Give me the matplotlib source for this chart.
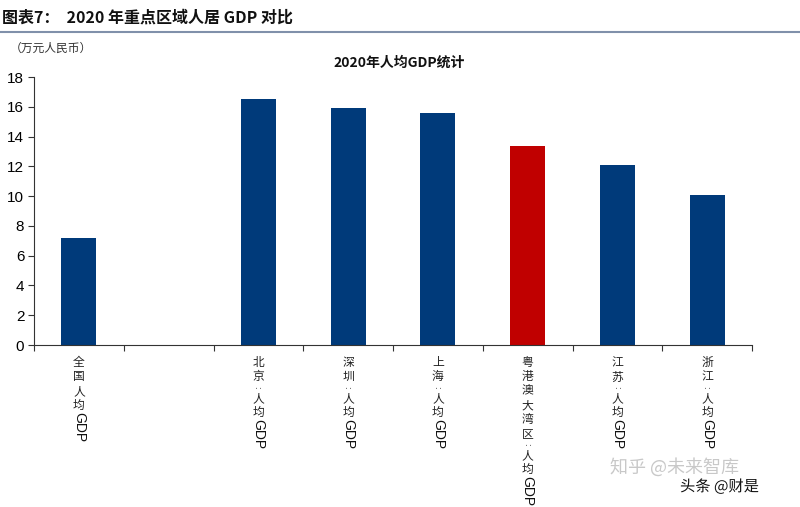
import matplotlib

matplotlib.use("Agg")

import matplotlib.pyplot as plt
import matplotlib.patheffects as pe

plt.rcParams["font.family"] = ["Noto Sans CJK SC", "DejaVu Sans"]

# data (万元人民币)
regions = ["全国", "", "北京", "深圳", "上海", "粤港澳大湾区", "江苏", "浙江"]
gdp_per_capita = [7.2, None, 16.5, 15.95, 15.6, 13.4, 12.1, 10.05]
highlight = "粤港澳大湾区"

_BLUE = "#003a7a"
_RED = "#c00000"

fig = plt.figure(figsize=(8.0, 5.07), dpi=100)
ax = fig.add_axes([0.0425, 0.3195, 0.8975, 0.5285])

for i, (name, value) in enumerate(zip(regions, gdp_per_capita)):
    if value is None:
        continue
    color = _RED if name == highlight else _BLUE
    ax.bar(i, value, width=0.39, color=color)

ax.set_xlim(-0.5, len(regions) - 0.5)
ax.set_ylim(0, 18)
ax.set_yticks(range(0, 19, 2))
ax.set_xticks([i + 0.5 for i in range(-1, len(regions))])
ax.set_xticklabels([])
ax.tick_params(axis="x", direction="out", length=4, width=0.8, color="#333333")
ax.tick_params(axis="y", direction="out", length=4, width=0.8, color="#333333", pad=3)
for lbl in ax.get_yticklabels():
    lbl.set_fontfamily("Liberation Sans")
    lbl.set_fontsize(11)
ax.spines["top"].set_visible(False)
ax.spines["right"].set_visible(False)
ax.spines["left"].set_color("#333333")
ax.spines["bottom"].set_color("#333333")

# vertical category labels: characters stacked, "GDP" turned sideways
step = 10.3
for i, name in enumerate(regions):
    if not name:
        continue
    chars = list(name) + [":", "人", "均"] if i > 0 else list(name) + ["人", "均"]
    off = 8.0
    for ch in chars:
        if ch == ":":
            ax.annotate(":", xy=(i, 0), xycoords=("data", "axes fraction"),
                        xytext=(0, -off - 1.0), textcoords="offset points",
                        ha="center", va="center", rotation=90, fontsize=7,
                        fontfamily="DejaVu Sans", color="#444444",
                        annotation_clip=False)
            off += step * 0.5
        else:
            ax.annotate(ch, xy=(i, 0), xycoords=("data", "axes fraction"),
                        xytext=(0, -off), textcoords="offset points",
                        ha="center", va="top", fontsize=8.5,
                        color="#222222", annotation_clip=False)
            off += step
    ax.annotate("GDP", xy=(i, 0), xycoords=("data", "axes fraction"),
                xytext=(0, -off + 1), textcoords="offset points",
                ha="center", va="top", rotation=-90, fontsize=10,
                fontfamily="Liberation Sans", color="#111111",
                annotation_clip=False)

fig.text(0.003, 0.9645, "图表7：  2020 年重点区域人居 GDP 对比",
         ha="left", va="center", fontsize=11.5, fontweight="bold", color="#111111")
fig.add_artist(plt.Line2D([0, 1], [0.936, 0.936], color="#8090aa", linewidth=1.5,
                          transform=fig.transFigure))
fig.text(0.012, 0.905, "（万元人民币）", ha="left", va="center",
         fontsize=8.5, color="#333333")
fig.text(0.499, 0.877, "2020年人均GDP统计", ha="center", va="center",
         fontsize=10, fontweight="bold", color="#111111")

# watermarks
fig.text(0.762, 0.078, "知乎 @未来智库", ha="left", va="center",
         fontsize=13, color="#bbbbbb", alpha=0.8)
fig.text(0.85, 0.04, "头条 @财是", ha="left", va="center",
         fontsize=11, color="#111111",
         path_effects=[pe.withStroke(linewidth=3, foreground="white")])

fig.savefig("out.png", dpi=100, facecolor="white")
plt.close(fig)
